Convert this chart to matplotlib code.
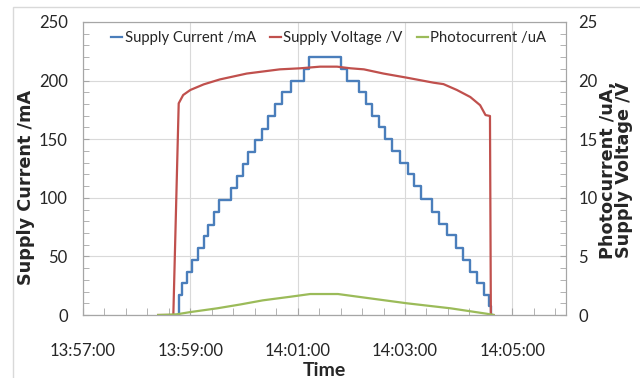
import numpy as np
import pandas as pd
import matplotlib
matplotlib.use("Agg")
import matplotlib.pyplot as plt
from matplotlib.ticker import MultipleLocator, FuncFormatter
from matplotlib.lines import Line2D
from matplotlib.patches import Rectangle

plt.rcParams['font.family'] = ['Lato', 'DejaVu Sans']

start = "13:57:00"

# supply current, stepped (value holds until next time)
current_times = ["13:58:43", "13:58:47", "13:58:51", "13:58:56", "13:59:02", "13:59:09",
                 "13:59:15", "13:59:20", "13:59:26", "13:59:32", "13:59:45", "13:59:52",
                 "13:59:59", "14:00:05", "14:00:12", "14:00:20", "14:00:27", "14:00:35",
                 "14:00:42", "14:00:52", "14:01:07", "14:01:13", "14:01:49", "14:01:55",
                 "14:02:09", "14:02:16", "14:02:23", "14:02:31", "14:02:38", "14:02:46",
                 "14:02:54", "14:03:03", "14:03:10", "14:03:18", "14:03:30", "14:03:38",
                 "14:03:47", "14:03:57", "14:04:05", "14:04:13", "14:04:21", "14:04:28",
                 "14:04:34", "14:04:36", "14:04:37"]
current_mA = [0, 17, 27, 37, 47, 57, 67, 77, 88, 98, 108, 119, 129, 139, 149, 159, 170, 180,
              190, 200, 210, 220, 210, 200, 190, 180, 170, 160, 150, 140, 130, 120, 110, 99,
              88, 78, 68, 57, 47, 37, 27, 17, 8, 0, 0]

voltage_times = ["13:58:24", "13:58:41", "13:58:47", "13:58:52", "13:59:00", "13:59:15",
                 "13:59:33", "14:00:03", "14:00:40", "14:01:03", "14:01:25", "14:01:44",
                 "14:01:59", "14:02:14", "14:02:36", "14:03:02", "14:03:32", "14:03:43",
                 "14:03:58", "14:04:13", "14:04:24", "14:04:30", "14:04:35", "14:04:36",
                 "14:04:39"]
voltage_V = [0, 0, 18.06, 18.77, 19.2, 19.68, 20.1, 20.6, 20.96, 21.05, 21.19, 21.19,
             21.05, 20.96, 20.6, 20.25, 19.82, 19.7, 19.2, 18.6, 17.9, 17.06, 16.98, 0, 0]

photo_times = ["13:58:24", "13:58:44", "13:59:00", "13:59:30", "13:59:56", "14:00:21",
               "14:00:52", "14:01:14", "14:01:45", "14:02:18", "14:03:02", "14:03:51",
               "14:04:32", "14:04:39"]
photo_uA = [0, 0.05, 0.25, 0.57, 0.9, 1.25, 1.56, 1.79, 1.79, 1.45, 1.0, 0.57, 0.1, 0]


def secs(times):
    t0 = pd.Timestamp("2000-01-01 " + start)
    return np.array([(pd.Timestamp("2000-01-01 " + t) - t0).total_seconds() for t in times])


def clock(x, pos):
    t = pd.Timestamp("2000-01-01 " + start) + pd.Timedelta(seconds=x)
    return t.strftime("%H:%M:%S")


blue = "#4A7EBB"
red = "#C0504D"
green = "#9BBB59"
grid_c = "#D9D9D9"
spine_c = "#A6A6A6"
txt = "#262626"
label_font = ["DejaVu Sans"]

fig = plt.figure(figsize=(6.4, 3.78), dpi=100)
ax = fig.add_axes([83 / 640, 1 - 315 / 378, (566 - 83) / 640, (315 - 22) / 378])
ax2 = ax.twinx()

ax.plot(secs(current_times), current_mA, drawstyle="steps-post", color=blue, lw=1.7)
ax2.plot(secs(voltage_times), voltage_V, color=red, lw=1.6)
ax2.plot(secs(photo_times), photo_uA, color=green, lw=1.6)

ax.set_xlim(0, 540)
ax.set_ylim(0, 250)
ax2.set_ylim(0, 25)

ax.xaxis.set_major_locator(MultipleLocator(120))
ax.xaxis.set_minor_locator(MultipleLocator(24))
ax.xaxis.set_major_formatter(FuncFormatter(clock))
ax.yaxis.set_major_locator(MultipleLocator(50))
ax.yaxis.set_minor_locator(MultipleLocator(10))
ax2.yaxis.set_major_locator(MultipleLocator(5))
ax2.yaxis.set_minor_locator(MultipleLocator(1))

ax.grid(True, which="major", color=grid_c, lw=0.8)
ax.set_axisbelow(True)

for a in (ax, ax2):
    for s in a.spines.values():
        s.set_color(spine_c)
        s.set_linewidth(0.8)
ax.spines["bottom"].set_color("#868686")

ax.tick_params(axis="x", which="both", direction="in", length=5, color=spine_c,
               labelsize=12, labelcolor=txt, pad=20)
ax.tick_params(axis="y", which="both", direction="in", length=4, color=spine_c,
               labelsize=12, labelcolor=txt, pad=11)
ax2.tick_params(axis="y", which="both", direction="in", length=4, color=spine_c,
                labelsize=12, labelcolor=txt, pad=9)

fig.text(324 / 640, 1 - 370 / 378, "Time", ha="center", va="center",
         fontsize=14, fontweight="bold", color=txt)
fig.text(26 / 640, 1 - 187 / 378, "Supply Current /mA", rotation=90, ha="center", va="center",
         fontsize=12.7, fontweight="bold", color=txt, family=label_font)
fig.text(616 / 640, 1 - 170 / 378, "Photocurrent /uA,\nSupply Voltage /V", rotation=90,
         ha="center", va="center", fontsize=12.7, fontweight="bold", color=txt,
         family=label_font, linespacing=0.9, multialignment="center")

handles = [Line2D([], [], color=blue, lw=1.6), Line2D([], [], color=red, lw=1.6),
           Line2D([], [], color=green, lw=1.6)]
labels = ["Supply Current /mA", "Supply Voltage /V", "Photocurrent /uA"]
ax2.legend(handles, labels, loc="upper center", bbox_to_anchor=(0.509, 1.015), ncol=3,
           frameon=False, fontsize=10.7, handlelength=0.75, handletextpad=0.15,
           columnspacing=0.95, labelcolor=txt)

fig.patches.append(Rectangle((13 / 640, -0.1), 1.0, 1 - 7 / 378 + 0.1, transform=fig.transFigure,
                             fill=False, edgecolor="#D9D9D9", lw=1.0))

fig.savefig("out.png", dpi=100)
